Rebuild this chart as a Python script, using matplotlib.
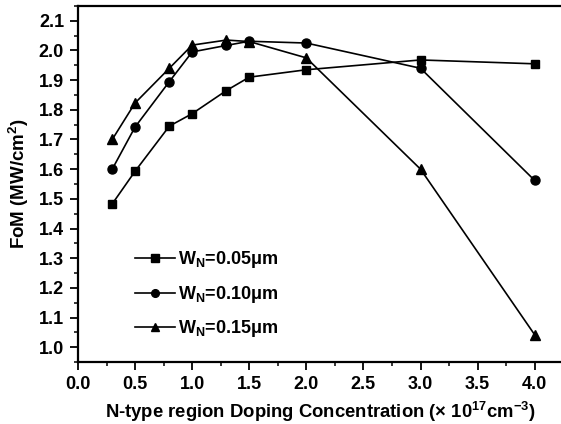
import matplotlib
matplotlib.use('Agg')
import matplotlib.pyplot as plt
from matplotlib.ticker import MultipleLocator

plt.rcParams['font.family'] = ['Liberation Sans', 'DejaVu Sans']
plt.rcParams['font.weight'] = 'bold'
plt.rcParams['mathtext.default'] = 'regular'

# doping concentration (x 1e17 cm^-3)
doping = [0.3, 0.5, 0.8, 1.0, 1.3, 1.5, 2.0, 3.0, 4.0]

# FoM (MW/cm^2) for each N-region width
fom_005 = [1.483, 1.593, 1.745, 1.787, 1.865, 1.910, 1.935, 1.968, 1.955]
fom_010 = [1.600, 1.742, 1.895, 1.995, 2.017, 2.031, 2.025, 1.940, 1.562]
fom_015 = [1.700, 1.823, 1.940, 2.018, 2.035, 2.030, 1.975, 1.600, 1.042]

labels = [r'W$_\mathregular{N}$=0.05μm',
          r'W$_\mathregular{N}$=0.10μm',
          r'W$_\mathregular{N}$=0.15μm']

fig = plt.figure(figsize=(5.61, 4.24), dpi=100)
ax = fig.add_axes([0.139, 0.146, 0.865, 0.840])

for ys, mk, ms, lab in zip([fom_005, fom_010, fom_015], ['s', 'o', '^'], [6, 6.5, 7], labels):
    ax.plot(doping, ys, color='black', lw=1.2, marker=mk, ms=ms, label=lab)

ax.set_xlim(0, 4.25)
ax.set_ylim(0.95, 2.15)
ax.xaxis.set_major_locator(MultipleLocator(0.5))
ax.xaxis.set_minor_locator(MultipleLocator(0.25))
ax.yaxis.set_major_locator(MultipleLocator(0.1))
ax.yaxis.set_minor_locator(MultipleLocator(0.05))
ax.tick_params(which='major', length=6, width=1.3, labelsize=13, pad=4)
ax.tick_params(which='minor', length=3, width=1.1)
for s in ax.spines.values():
    s.set_linewidth(1.6)
ax.spines['right'].set_visible(False)

ax.set_xlabel('N-type region Doping Concentration (× 10$^{17}$cm$^{-3}$)',
              fontsize=13.3, fontweight='bold', labelpad=5)
ax.set_ylabel('FoM (MW/cm$^{2}$)', fontsize=13.5, fontweight='bold', labelpad=6)

ax.legend(loc='lower left', bbox_to_anchor=(0.085, 0.018), frameon=False,
          fontsize=13, handlelength=2.2, labelspacing=0.75, handletextpad=0.15,
          markerscale=0.85)

fig.savefig('out.png', dpi=100)
